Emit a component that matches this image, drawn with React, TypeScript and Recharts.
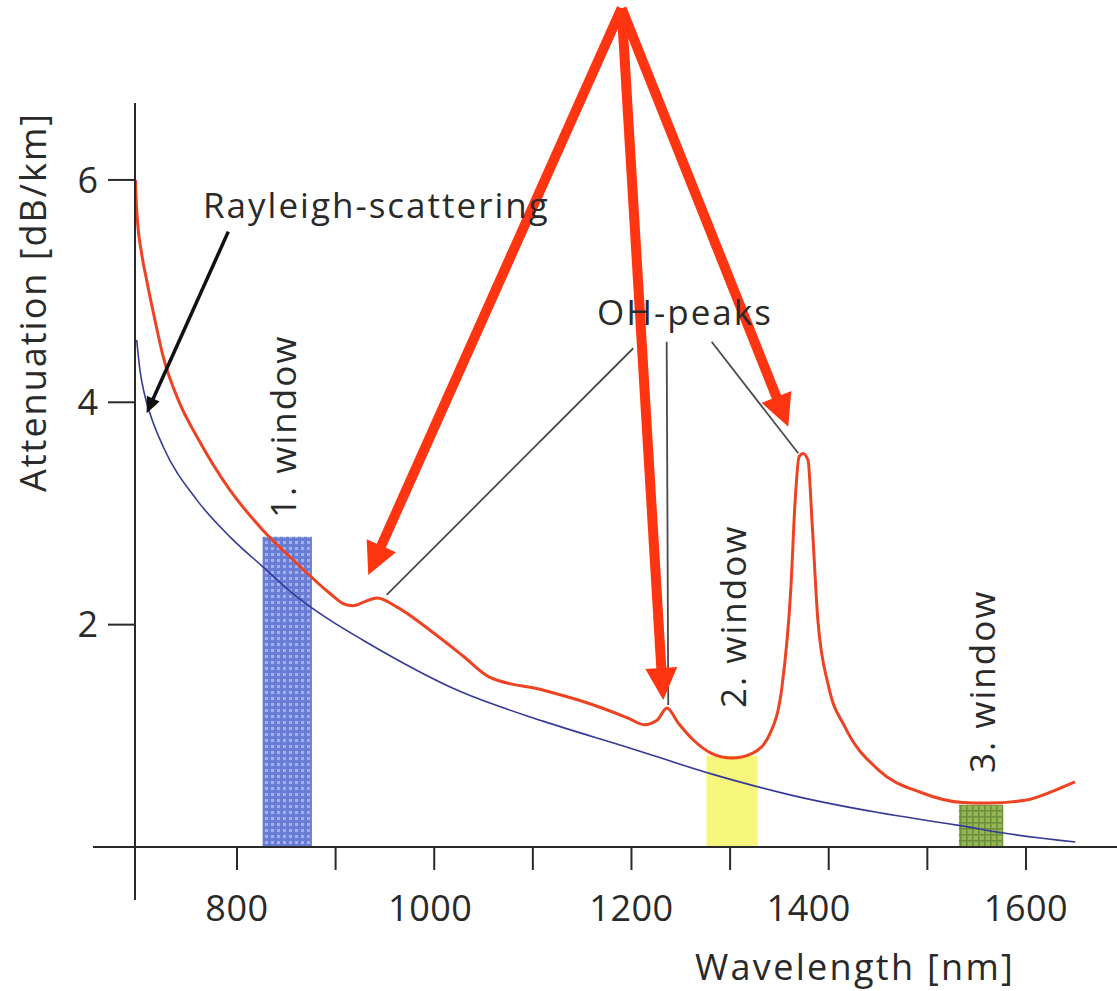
import React from 'react';
import { ComposedChart, Line, XAxis, YAxis, ReferenceArea, ReferenceLine } from 'recharts';

// ---- data ----
const totalNm = [697, 698.3, 703.3, 708.4, 716.8, 725.2, 742, 759.4, 792.9, 826.3, 860.8, 894.3, 907.5, 918, 927.8, 942, 962, 995.7, 1029, 1055.5, 1111, 1154, 1196.5, 1212.7, 1225.9, 1236, 1247, 1263, 1280.6, 1301.9, 1323, 1340.4, 1352.6, 1361.7, 1365.8, 1369.9, 1374, 1379, 1383, 1389, 1400, 1416.4, 1450.9, 1493.5, 1536, 1561.4, 1599, 1629.4, 1649.7];
const totalDb = [6.0, 5.73, 5.34, 5.1, 4.74, 4.41, 3.99, 3.69, 3.21, 2.85, 2.55, 2.28, 2.19, 2.17, 2.2, 2.24, 2.16, 1.95, 1.72, 1.53, 1.41, 1.3, 1.16, 1.1, 1.14, 1.25, 1.12, 0.96, 0.845, 0.8, 0.845, 1.02, 1.44, 2.34, 3.09, 3.51, 3.54, 3.48, 2.94, 2.04, 1.44, 1.08, 0.69, 0.49, 0.4, 0.395, 0.42, 0.51, 0.585];

const rayleighNm = [698.3, 701.6, 706, 711.8, 725.2, 759.4, 792.9, 826.3, 860.8, 894.3, 927.8, 1026, 1111, 1195, 1280, 1365, 1450, 1506, 1535, 1574, 1650];
const rayleighDb = [4.56, 4.29, 4.08, 3.9, 3.6, 3.12, 2.79, 2.52, 2.25, 2.04, 1.86, 1.4, 1.13, 0.9, 0.66, 0.46, 0.31, 0.23, 0.19, 0.13, 0.045];

const xTicks = [800, 900, 1000, 1100, 1200, 1300, 1400, 1500, 1600];
const xTickLabels = [800, 1000, 1200, 1400, 1600];
const yTicks = [2, 4, 6];

const windowNames = ['1. window', '2. window', '3. window'];
const windowStart = [826, 1276, 1532];
const windowEnd = [876, 1328, 1577];
const windowTop = [2.79, 0.82, 0.38];
const windowFill = ['url(#bluePat)', '#f7f67c', 'url(#greenPat)'];

// arrows: apex -> targets (nm, dB/km)
const apex = { x: 1190, y: 7.544 };
const ohTargets = [
  { x: 933.1, y: 2.447 },
  { x: 1232.2, y: 1.322 },
  { x: 1359.0, y: 3.781 },
];
const rayleighArrow = [{ x: 791.2, y: 5.535 }, { x: 708.4, y: 3.901 }];
const leaderLines = [
  [{ x: 1201.8, y: 4.486 }, { x: 951.8, y: 2.267 }],
  [{ x: 1235.7, y: 4.545 }, { x: 1237.3, y: 1.277 }],
  [{ x: 1281.3, y: 4.545 }, { x: 1369.1, y: 3.541 }],
];

const totalData = totalNm.map((x, i) => ({ x, y: totalDb[i] }));
const rayleighData = rayleighNm.map((x, i) => ({ x, y: rayleighDb[i] }));

const FONT = "'Open Sans', 'Noto Sans', sans-serif";
const INK = '#2a2a2a';
const RED = '#ff3512';

const arrowShape = (w: number, hl: number, hw: number, color: string) => (p: any) => {
  const { x1, y1, x2, y2 } = p;
  const dx = x2 - x1;
  const dy = y2 - y1;
  const len = Math.hypot(dx, dy) || 1;
  const ux = dx / len;
  const uy = dy / len;
  const bx = x2 - ux * hl;
  const by = y2 - uy * hl;
  const px = -uy;
  const py = ux;
  return (
    <g>
      <line x1={x1} y1={y1} x2={bx + ux * 2} y2={by + uy * 2} stroke={color} strokeWidth={w} />
      <polygon
        points={`${x2},${y2} ${bx + px * hw},${by + py * hw} ${bx - px * hw},${by - py * hw}`}
        fill={color}
      />
    </g>
  );
};

const XTick = (props: any) => {
  const { x, y, payload } = props;
  const v = payload?.value;
  if (!xTickLabels.includes(v)) return <g />;
  const shift = v === 1400 ? -20 : v === 1000 ? -4 : 0;
  return (
    <text x={x + shift} y={y} dy="0.71em" textAnchor="middle" fontFamily={FONT} fontSize={36} fill={INK} style={{ letterSpacing: 0.5 }}>
      {v}
    </text>
  );
};

const textStyle = { fontFamily: FONT, fontSize: 35, fill: INK, letterSpacing: 2 } as any;

export default function App() {
  return (
    <div style={{ position: 'absolute', left: 0, top: 0, width: 1117, height: 991, background: '#fff' }}>
      <ComposedChart width={1117} height={991} margin={{ top: 103, right: 0, bottom: 0, left: 0 }}>
        <defs>
          <pattern id="bluePat" width="6" height="6" patternUnits="userSpaceOnUse">
            <rect width="6" height="6" fill="#6a7dd4" />
            <rect x="1" y="1" width="3" height="3" fill="#a3b0ea" />
          </pattern>
          <pattern id="greenPat" width="6" height="6" patternUnits="userSpaceOnUse">
            <rect width="6" height="6" fill="#98b650" />
            <rect x="0" y="0" width="6" height="1.6" fill="#6b9140" />
            <rect x="0" y="0" width="1.6" height="6" fill="#6b9140" />
          </pattern>
        </defs>
        <XAxis
          dataKey="x"
          type="number"
          domain={[696.6, 1692.3]}
          allowDataOverflow
          ticks={xTicks}
          height={144}
          tickSize={23}
          tickMargin={25}
          axisLine={{ stroke: INK, strokeWidth: 2 }}
          tickLine={{ stroke: INK, strokeWidth: 2 }}
          tick={<XTick />}
          interval={0}
        />
        <YAxis
          type="number"
          domain={[0, 6.692]}
          allowDataOverflow
          ticks={yTicks}
          width={135}
          tickSize={27}
          tickMargin={10}
          axisLine={{ stroke: INK, strokeWidth: 2 }}
          tickLine={{ stroke: INK, strokeWidth: 2 }}
          tick={{ fontFamily: FONT, fontSize: 36, fill: INK }}
        />
        {windowNames.map((n, i) => (
          <ReferenceArea
            key={n}
            x1={windowStart[i]}
            x2={windowEnd[i]}
            y1={0}
            y2={windowTop[i]}
            fill={windowFill[i]}
            fillOpacity={1}
            stroke="none"
            ifOverflow="visible"
          />
        ))}
        <ReferenceLine segment={[{ x: 696.6, y: 0 }, { x: 696.6, y: -0.477 }]} stroke={INK} strokeWidth={2} ifOverflow="visible" />
        <ReferenceLine segment={[{ x: 654, y: 0 }, { x: 696.6, y: 0 }]} stroke={INK} strokeWidth={2} ifOverflow="visible" />
        <Line data={rayleighData} dataKey="y" type="monotone" stroke="#353a98" strokeWidth={1.6} dot={false} activeDot={false} isAnimationActive={false} />
        <Line data={totalData} dataKey="y" type="monotone" stroke="#ee4322" strokeWidth={3} dot={false} activeDot={false} isAnimationActive={false} />
        {leaderLines.map((seg, i) => (
          <ReferenceLine key={'l' + i} segment={seg} stroke="#4a4a4a" strokeWidth={1.8} ifOverflow="visible" />
        ))}
        <ReferenceLine segment={rayleighArrow} ifOverflow="visible" shape={arrowShape(3.5, 16, 7, '#111')} />
        {ohTargets.map((t, i) => (
          <ReferenceLine key={'a' + i} segment={[apex, t]} ifOverflow="visible" shape={arrowShape(10, 32, 16, RED)} />
        ))}
      </ComposedChart>
      <svg
        width={1117}
        height={991}
        style={{ position: 'absolute', left: 0, top: 0, pointerEvents: 'none' }}
      >
        <text x={203} y={218} style={textStyle}>Rayleigh-scattering</text>
        <text x={597} y={325} style={textStyle}>OH-peaks</text>
        <text x={296} y={518} transform="rotate(-90 296 518)" style={textStyle}>{windowNames[0]}</text>
        <text x={746} y={708} transform="rotate(-90 746 708)" style={textStyle}>{windowNames[1]}</text>
        <text x={995} y={773} transform="rotate(-90 995 773)" style={textStyle}>{windowNames[2]}</text>
        <text x={695} y={980} style={{ ...textStyle, fontSize: 36, letterSpacing: 2.3 }}>Wavelength [nm]</text>
        <text x={46} y={302} textAnchor="middle" transform="rotate(-90 46 302)" style={{ ...textStyle, fontSize: 36 }}>Attenuation [dB/km]</text>
      </svg>
    </div>
  );
}
